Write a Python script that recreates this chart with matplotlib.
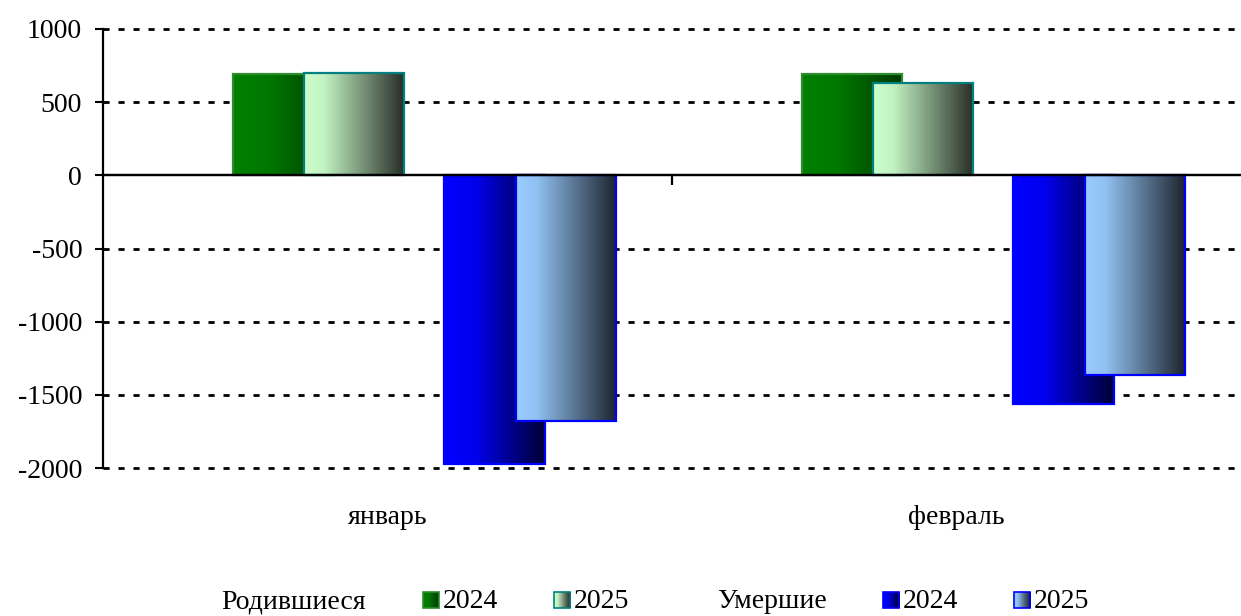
import numpy as np
import matplotlib
matplotlib.use("Agg")
import matplotlib.pyplot as plt
from matplotlib.colors import LinearSegmentedColormap
from matplotlib.patches import Rectangle

# ---- data ----
categories = ["январь", "февраль"]
births_2024 = [690, 695]
births_2025 = [700, 628]
deaths_2024 = [-1970, -1565]
deaths_2025 = [-1680, -1365]
yticks = [1000, 500, 0, -500, -1000, -1500, -2000]
legend_group1 = "Родившиеся"
legend_group2 = "Умершие"
legend_years = ["2024", "2025"]

plt.rcParams['font.family'] = ['Liberation Serif', 'DejaVu Serif']
FS = 20

W, H = 1241, 616
fig = plt.figure(figsize=(W / 100, H / 100), dpi=100)
ax = fig.add_axes([103 / W, 1 - 468 / H, (W - 103) / W, (468 - 29) / H])

cmaps = {
    "b24": LinearSegmentedColormap.from_list("b24", [(0, "#008000"), (0.35, "#007800"), (1, "#003800")]),
    "b25": LinearSegmentedColormap.from_list("b25", [(0, "#CCFFCC"), (0.2, "#C2F2C2"), (1, "#262C26")]),
    "d24": LinearSegmentedColormap.from_list("d24", [(0, "#0000FF"), (0.3, "#0000F0"), (1, "#000033")]),
    "d25": LinearSegmentedColormap.from_list("d25", [(0, "#99CCFF"), (0.2, "#92C2F2"), (1, "#1C232C")]),
}
edges = {"b24": "#2E8B2E", "b25": "#008080", "d24": "#0000FF", "d25": "#0000FF"}
offsets = {"b24": -0.272, "b25": -0.147, "d24": 0.100, "d25": 0.225}
bw = 0.176
grad = np.linspace(0, 1, 256).reshape(1, -1)

series = [("b24", births_2024), ("b25", births_2025), ("d24", deaths_2024), ("d25", deaths_2025)]
z = 3
for key, vals in series:
    for i, v in enumerate(vals):
        x0 = i + offsets[key]
        ax.imshow(grad, extent=[x0, x0 + bw, min(0, v), max(0, v)], aspect='auto',
                  cmap=cmaps[key], zorder=z, interpolation='bilinear')
        ax.bar([x0], [v], width=bw, align='edge', facecolor='none',
               edgecolor=edges[key], linewidth=1.6, zorder=z + 0.5)
        z += 1

ax.set_xlim(-0.5, 1.5)
ax.set_ylim(-2000, 1000)
ax.set_yticks(yticks)
ax.set_yticklabels([str(t) for t in yticks], fontsize=FS)
ax.tick_params(axis='y', direction='out', length=6, width=1.5, pad=9)

for y in yticks:
    if y != 0:
        ax.axhline(y, color='black', linewidth=2.0, linestyle=(0, (2.2, 3.2)), zorder=1, clip_on=False)
ax.axhline(0, color='black', linewidth=1.6, zorder=20)

for s in ['top', 'right']:
    ax.spines[s].set_visible(False)
ax.spines['left'].set_linewidth(1.6)
ax.spines['bottom'].set_position(('data', 0))
ax.spines['bottom'].set_linewidth(1.6)
ax.spines['bottom'].set_zorder(20)
ax.set_xticks([0, 1])
ax.set_xticklabels(categories, fontsize=FS)
ax.tick_params(axis='x', which='major', length=0, pad=237)
ax.set_xticks([0.5], minor=True)
ax.tick_params(axis='x', which='minor', length=7, width=1.6, direction='out')

# ---- legend (manual) ----
def fx(px):
    return px / W

def fy(py):
    return 1 - py / H

ly = 600
ty = 602
def legend_square(px, key):
    n = 34
    size = 16
    cmap = cmaps[key]
    for k in range(n):
        fig.add_artist(Rectangle((fx(px + size * k / n), fy(ly + size / 2)), size / n / W + 0.5 / W, size / H,
                                 transform=fig.transFigure, facecolor=cmap(k / (n - 1)),
                                 edgecolor='none'))
    fig.add_artist(Rectangle((fx(px), fy(ly + size / 2)), size / W, size / H,
                             transform=fig.transFigure, facecolor='none',
                             edgecolor=edges[key], linewidth=1.2))

fig.text(fx(221), fy(ty), legend_group1, fontsize=FS, va='center', ha='left')
legend_square(423, "b24")
fig.text(fx(443), fy(ty), legend_years[0], fontsize=FS, va='center', ha='left')
legend_square(554, "b25")
fig.text(fx(574), fy(ty), legend_years[1], fontsize=FS, va='center', ha='left')
fig.text(fx(717), fy(ty), legend_group2, fontsize=FS, va='center', ha='left')
legend_square(883, "d24")
fig.text(fx(903), fy(ty), legend_years[0], fontsize=FS, va='center', ha='left')
legend_square(1014, "d25")
fig.text(fx(1034), fy(ty), legend_years[1], fontsize=FS, va='center', ha='left')

fig.savefig("out.png", dpi=100)
